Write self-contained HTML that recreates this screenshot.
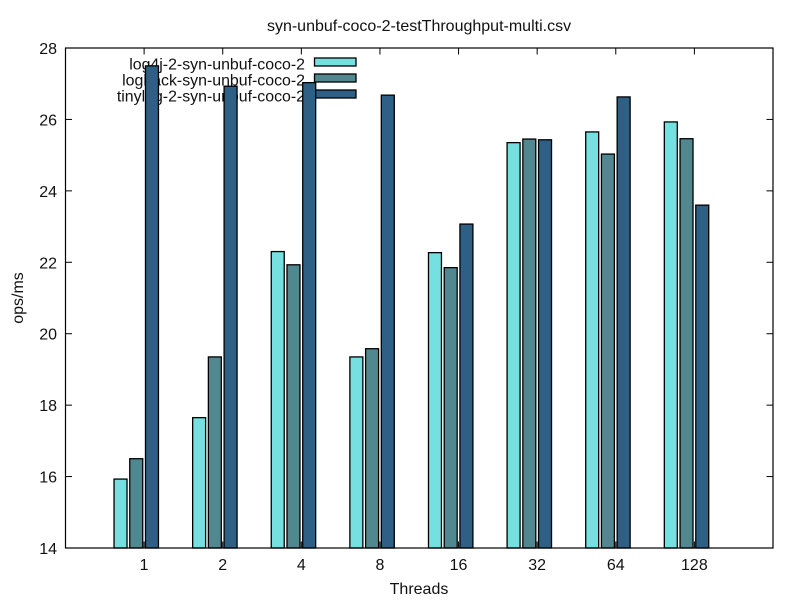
<!DOCTYPE html>
<html>
<head>
<meta charset="utf-8">
<title>syn-unbuf-coco-2-testThroughput-multi.csv</title>
<style>
html,body{margin:0;padding:0;background:#fff;}
svg{display:block;}
text{font-family:"Liberation Sans",sans-serif;font-size:16px;fill:#111;}
</style>
</head>
<body>
<svg id="chart" xmlns="http://www.w3.org/2000/svg" width="800" height="600" viewBox="0 0 800 600"></svg>
<script>
const categories = ["1", "2", "4", "8", "16", "32", "64", "128"];
const seriesNames = ["log4j-2-syn-unbuf-coco-2", "logback-syn-unbuf-coco-2", "tinylog-2-syn-unbuf-coco-2"];
const log4jValues = [15.93, 17.65, 22.3, 19.35, 22.27, 25.35, 25.65, 25.93];
const logbackValues = [16.5, 19.35, 21.93, 19.58, 21.85, 25.45, 25.03, 25.46];
const tinylogValues = [27.5, 26.93, 27.03, 26.68, 23.07, 25.43, 26.63, 23.6];
const yTicks = [14, 16, 18, 20, 22, 24, 26, 28];
const titleText = "syn-unbuf-coco-2-testThroughput-multi.csv";
const xTitleText = "Threads";
const yTitleText = "ops/ms";

const svg = document.getElementById('chart');
const NS = 'http://www.w3.org/2000/svg';
const L = 65.5, R = 773, T = 48, B = 548;
const colors = ['#76e0e0', '#518890', '#2e5f85'];
const allSeries = [log4jValues, logbackValues, tinylogValues];
const offsets = [-0.3, -0.1, 0.1];
const barW = 0.165;

function xAxis(v) { return L + (R - L) * v / 9; }
function yAxis(v) { return B - (B - T) * (v - 14) / 14; }
function make(tag, attrs) {
  const el = document.createElementNS(NS, tag);
  for (const k in attrs) el.setAttribute(k, attrs[k]);
  svg.appendChild(el);
  return el;
}

const title = make('text', {x: 419, y: 31, 'text-anchor': 'middle'});
title.textContent = titleText;



const xTitle = make('text', {x: 419, y: 594, 'text-anchor': 'middle'});
xTitle.textContent = xTitleText;



const yTitle = make('text', {x: 0, y: 0, 'text-anchor': 'middle', transform: 'translate(23 298) rotate(-90)'});
yTitle.textContent = yTitleText;



yTicks.forEach(function (t) {
  const y = yAxis(t);
  const label = make('text', {x: 57, y: y + 6, 'text-anchor': 'end'});
  label.textContent = String(t);
  
  
  if (t > 14 && t < 28) {
    const leftTick = make('line', {x1: L, x2: L + 6.5, y1: y, y2: y, stroke: '#000', 'stroke-width': 1});
    
    
    const rightTick = make('line', {x1: R - 6.5, x2: R, y1: y, y2: y, stroke: '#000', 'stroke-width': 1});
    
    
  }
});

categories.forEach(function (c, i) {
  const x = xAxis(i + 1);
  const label = make('text', {x: x, y: 570, 'text-anchor': 'middle'});
  label.textContent = c;
  
  
  const bottomTick = make('line', {x1: x, x2: x, y1: B, y2: B - 6.5, stroke: '#000', 'stroke-width': 1});
  
  
  const topTick = make('line', {x1: x, x2: x, y1: T, y2: T + 6.5, stroke: '#000', 'stroke-width': 1});
  
  
});

seriesNames.forEach(function (name, s) {
  const yc = 62 + s * 16;
  const label = make('text', {x: 305, y: yc + 7.5, 'text-anchor': 'end', style: 'font-size:15.9px'});
  label.textContent = name;
  
  
  const swatch = make('rect', {x: 314.5, y: yc - 4, width: 41.5, height: 8, fill: colors[s], stroke: '#000', 'stroke-width': 1.3});
  
  
});

allSeries.forEach(function (values, s) {
  values.forEach(function (v, i) {
    const x0 = xAxis(i + 1 + offsets[s] - barW / 2);
    const x1 = xAxis(i + 1 + offsets[s] + barW / 2);
    const y = yAxis(v);
    const bar = make('rect', {x: x0, y: y, width: x1 - x0, height: B - y, fill: colors[s], stroke: '#000', 'stroke-width': 1.3});
    
    
  });
});

const frame = make('rect', {x: L, y: T, width: R - L, height: B - T, fill: 'none', stroke: '#000', 'stroke-width': 1.2});


</script>
</body>
</html>
